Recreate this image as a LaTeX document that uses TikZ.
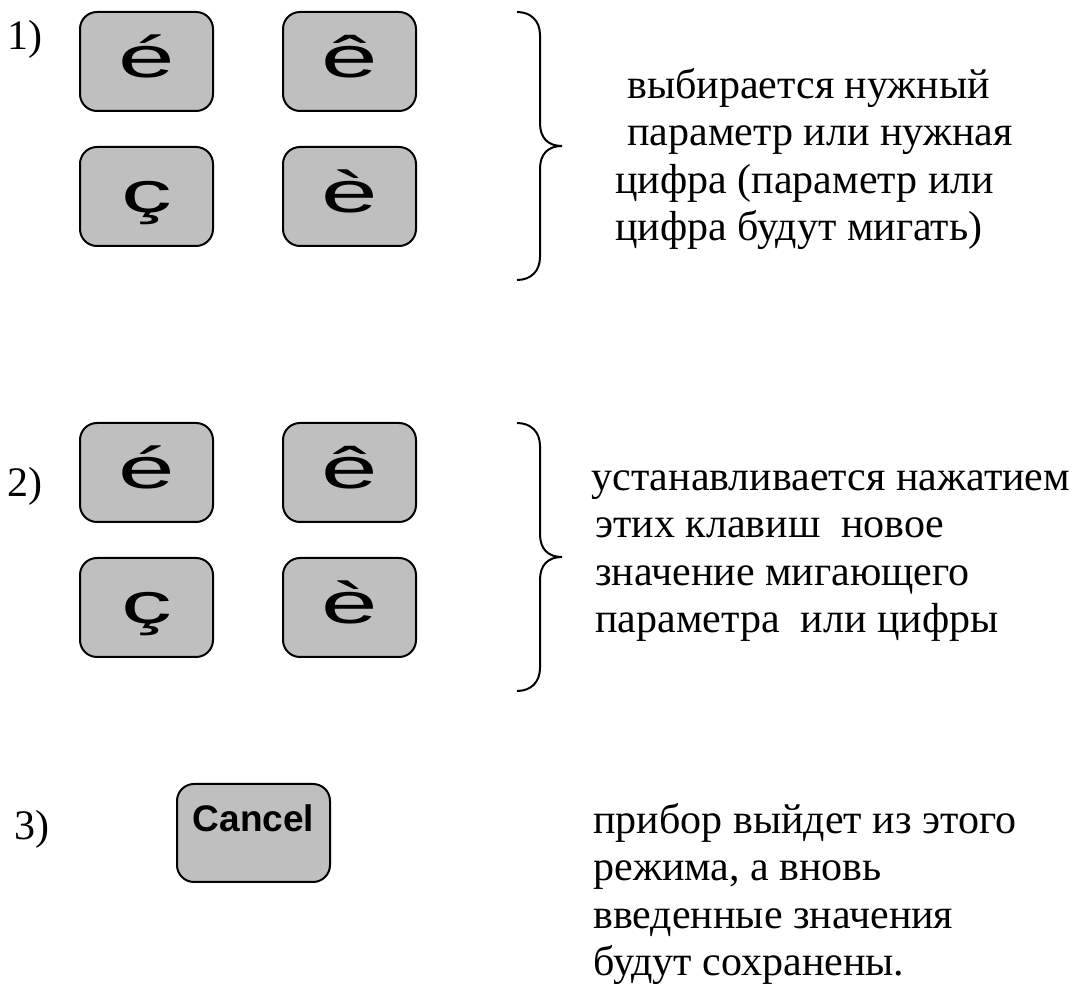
\documentclass[tikz,border=0pt]{standalone}
\usepackage{fontspec}
\setmainfont{Liberation Serif}
\newfontfamily\keyfont{Liberation Sans}
\definecolor{keyGray}{gray}{0.75}

\begin{document}
\begin{tikzpicture}[x=0.5pt, y=-0.5pt,
    key/.style={draw, line width=1pt, fill=keyGray, rounded corners=8.5pt,
        minimum width=66.5pt, minimum height=49.5pt, inner sep=0pt,
        text height=20pt, text depth=3.5pt,
        font=\keyfont\fontsize{29}{29}\selectfont},
    cancelkey/.style={key, minimum width=76.5pt, minimum height=49pt,
        text height=14pt, text depth=15pt,
        font=\keyfont\bfseries\fontsize{18.5}{18.5}\selectfont},
    note/.style={align=left, anchor=base west, inner sep=0pt,
        font=\fontsize{21}{23.75}\selectfont},
    num/.style={anchor=base west, inner sep=0pt,
        font=\fontsize{21}{23.75}\selectfont}]
    \useasboundingbox (0,0) rectangle (1083,988);

    % steps 1 and 2: four keys and a brace each
    \node[num] (n1) at (7.5,50) {1)};
    \node[num] (n2) at (7,497) {2)};
    \foreach \s/\dy in {1/0, 2/411} {
        \node[key] (up\s)    at (146.5, 61.5+\dy)  {\scalebox{1.75}[1]{é}};
        \node[key] (down\s)  at (349.5, 61.5+\dy)  {\scalebox{1.75}[1]{ê}};
        \node[key] (left\s)  at (146.5, 196.5+\dy) {\scalebox{1.75}[1]{ç}};
        \node[key] (right\s) at (349.5, 196.5+\dy) {\scalebox{1.75}[1]{è}};
        \draw[line width=1pt] (517,12+\dy) .. controls (531,12+\dy) and (540,21+\dy) .. (540,35+\dy)
            -- (540,123+\dy) .. controls (540,138+\dy) and (548,146+\dy) .. (562,146+\dy)
            .. controls (548,146+\dy) and (540,154+\dy) .. (540,169+\dy)
            -- (540,257+\dy) .. controls (540,271+\dy) and (531,280+\dy) .. (517,280+\dy);
    }
    % the base of a note is the base of its last line
    \node[note] (txt1) at (615,241) {\hspace*{6pt}выбирается нужный\\
        \hspace*{6pt}параметр или нужная\\
        цифра (параметр или\\
        цифра будут мигать)};
    \node[note] (txt2) at (591,633) {устанавливается нажатием\\
        \hspace*{2pt}этих клавиш\ \ новое\\
        \hspace*{2pt}значение мигающего\\
        \hspace*{2pt}параметра\ \ или цифры};

    % step 3: leave the mode
    \node[num] (n3) at (14.5,840) {3)};
    \node[cancelkey] (cancel) at (253.5,833) {Cancel};
    \node[note] (txt3) at (593,976) {прибор выйдет из этого\\
        режима, а вновь\\
        введенные значения\\
        будут сохранены.};
\end{tikzpicture}
\end{document}
